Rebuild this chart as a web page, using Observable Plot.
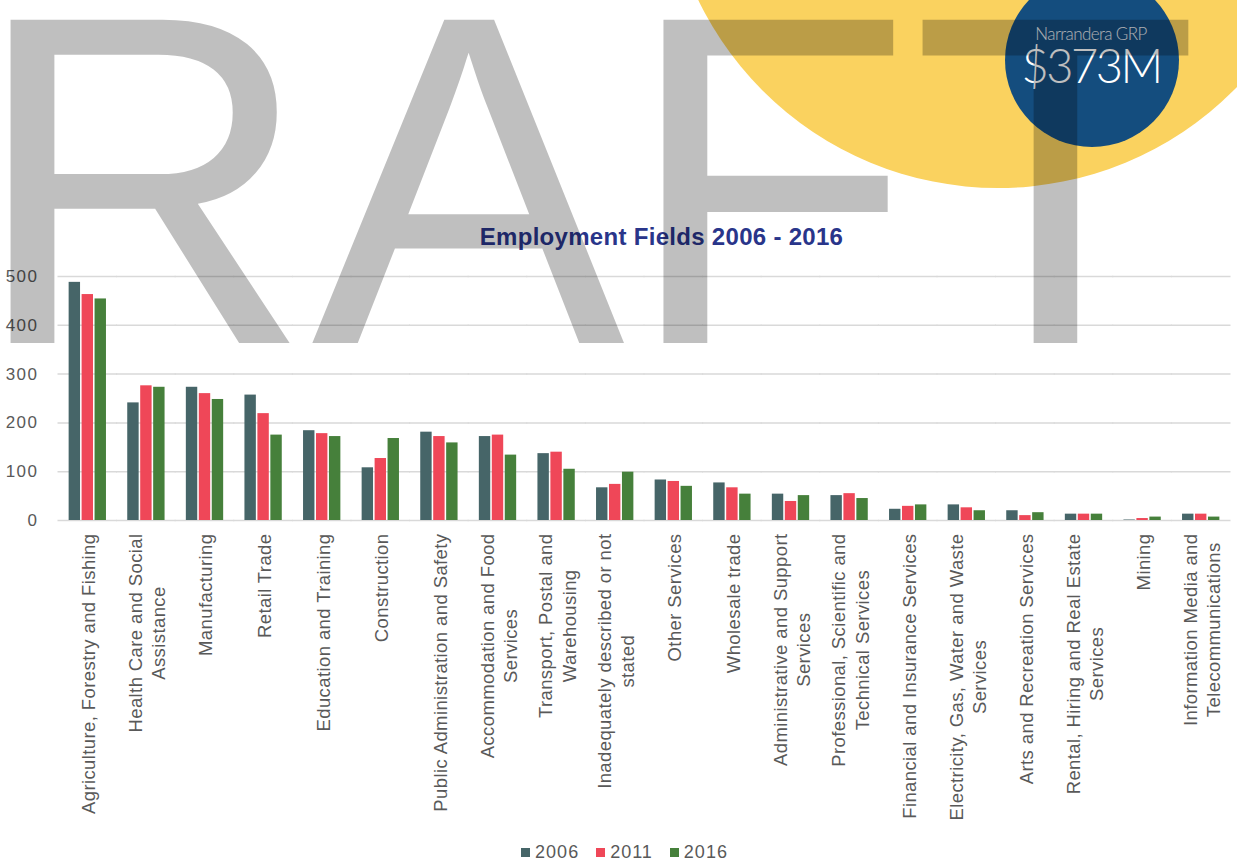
<!DOCTYPE html>
<html>
<head>
<meta charset="utf-8">
<script src="https://cdn.jsdelivr.net/npm/d3@7"></script>
<script src="https://cdn.jsdelivr.net/npm/@observablehq/plot@0.6"></script>
<style>
  html, body { margin: 0; padding: 0; background: #fff; }
  #wrap { width: 1237px; height: 867px; position: relative; overflow: hidden; }
  #legend .lg-swatches { justify-content: center; margin: 0 !important; min-height: 33px; padding-left: 12px;
    font-family: "Liberation Sans", Arial, sans-serif; font-size: 18px; letter-spacing: 1px; color: #595959; }
  #legend .lg-swatch { margin-right: 17px; }
  #legend .lg-swatch:last-child { margin-right: 0; }
  #legend .lg-swatch > svg { margin-right: 5px; }
  g.xlab text { letter-spacing: 0.4px; }
  g.ytl text { letter-spacing: 1.5px; }
</style>
</head>
<body>
<div id="wrap">
  <div id="chart"></div>
  <div id="legend"></div>
</div>
<script>
// ---------- data ----------
const categories = [
  "Agriculture, Forestry and Fishing",
  "Health Care and Social Assistance",
  "Manufacturing",
  "Retail Trade",
  "Education and Training",
  "Construction",
  "Public Administration and Safety",
  "Accommodation and Food Services",
  "Transport, Postal and Warehousing",
  "Inadequately described or not stated",
  "Other Services",
  "Wholesale trade",
  "Administrative and Support Services",
  "Professional, Scientific and Technical Services",
  "Financial and Insurance Services",
  "Electricity, Gas, Water and Waste Services",
  "Arts and Recreation Services",
  "Rental, Hiring and Real Estate Services",
  "Mining",
  "Information Media and Telecommunications"
];
const tickLabels = [
  "Agriculture, Forestry and Fishing",
  "Health Care and Social\nAssistance",
  "Manufacturing",
  "Retail Trade",
  "Education and Training",
  "Construction",
  "Public Administration and Safety",
  "Accommodation and Food\nServices",
  "Transport, Postal and\nWarehousing",
  "Inadequately described or not\nstated",
  "Other Services",
  "Wholesale trade",
  "Administrative and Support\nServices",
  "Professional, Scientific and\nTechnical Services",
  "Financial and Insurance Services",
  "Electricity, Gas, Water and Waste\nServices",
  "Arts and Recreation Services",
  "Rental, Hiring and Real Estate\nServices",
  "Mining",
  "Information Media and\nTelecommunications"
];
const years = ["2006", "2011", "2016"];
const v2006 = [488, 241, 273, 257, 184, 108, 181, 172, 137, 67, 83, 77, 54, 51, 23, 32, 20, 13, 1, 13];
const v2011 = [463, 276, 260, 219, 178, 127, 172, 175, 140, 74, 80, 67, 39, 55, 29, 26, 10, 13, 4, 13];
const v2016 = [454, 273, 248, 175, 172, 168, 159, 134, 105, 99, 70, 54, 51, 45, 32, 20, 16, 13, 7, 7];
const yTicks = [0, 100, 200, 300, 400, 500];
const titleText = "Employment Fields 2006 - 2016";
const grpLabel = "Narrandera GRP";
const grpValue = "$373M";
const watermark = "RAFT";   // visible part of the "DRAFT" watermark

// ---------- build ----------
const colors = ["#466568", "#ef4758", "#46803b"];
const series = [v2006, v2011, v2016];
const data = categories.flatMap((c, i) => years.map((y, j) => ({cat: c, year: y, value: series[j][i]})));
const labelData = categories.map((c, i) => ({cat: c, label: tickLabels[i]}));

const W = 1237, ML = 58, MR = 7;
const padIn = 0.31, padOut = 0.155;
const step = (W - ML - MR) / (categories.length - padIn + 2 * padOut);
const gapHalf = padIn * step / 2;        // half gap between facet bands
const outer = padOut * step;              // outer gap before first band

const chart = Plot.plot({
  width: W,
  height: 836,
  marginLeft: ML,
  marginRight: MR,
  marginTop: 276,
  marginBottom: 316,
  style: {fontFamily: "'Liberation Sans', Arial, sans-serif", background: "transparent", overflow: "visible"},
  fx: {domain: categories, paddingInner: padIn, paddingOuter: padOut, round: false, axis: null, label: null},
  x: {domain: years, padding: 0.12, round: false, axis: null},
  y: {domain: [0, 500], axis: null},
  color: {domain: years, range: colors},
  marks: [
    Plot.ruleY(yTicks, {y: d => d, stroke: "#d9d9d9", strokeWidth: 1.5, insetLeft: -gapHalf - 0.5, insetRight: -gapHalf - 0.5}),
    Plot.text(yTicks, {fx: () => categories[0], y: d => d, text: d => String(d), frameAnchor: "left", textAnchor: "end",
      dx: -(outer + 20), fill: "#595959", fontSize: 17, className: "ytl"}),
    Plot.barY(data, {fx: "cat", x: "year", y: "value", fill: "year"}),
    Plot.text(labelData, {fx: "cat", text: "label", frameAnchor: "bottom", rotate: -90, textAnchor: "end",
      lineAnchor: "middle", lineHeight: 1.25, dy: 13, fontSize: 18.5, fill: "#595959", className: "xlab"}),
    Plot.text([titleText], {text: d => d, frameAnchor: "top", dx: 17, dy: -39, lineAnchor: "middle",
      fontSize: 24, fontWeight: "bold", fill: "#29358a", facet: "super", className: "ttl"})
  ]
});
document.getElementById("chart").appendChild(chart);
d3.select(chart).selectAll("g.ttl text").attr("letter-spacing", "0.3px");

// center multi-line tick labels (Excel-style)
d3.select(chart).selectAll("g.xlab text").each(function() {
  const tspans = Array.from(this.querySelectorAll("tspan"));
  if (tspans.length > 1) {
    const max = d3.max(tspans, t => t.getComputedTextLength());
    this.setAttribute("text-anchor", "middle");
    tspans.forEach(t => t.setAttribute("x", -max / 2));
  }
});

// background decorations
const svg = d3.select(chart);
const deco = svg.insert("g", ":first-child");
deco.append("circle").attr("cx", 998).attr("cy", -145).attr("r", 333).attr("fill", "#fad25f");
deco.append("circle").attr("cx", 1092).attr("cy", 60).attr("r", 87).attr("fill", "#144d7e");
deco.append("text").text(grpLabel).attr("x", 1091).attr("y", 40).attr("text-anchor", "middle")
  .attr("font-family", "Lato, 'Liberation Sans', sans-serif").attr("font-weight", 300)
  .attr("font-size", 17).attr("letter-spacing", "-0.6px").attr("fill", "#e6e9ee");
deco.append("text").text(grpValue).attr("x", 1091).attr("y", 83).attr("text-anchor", "middle")
  .attr("font-family", "Lato, 'Liberation Sans', sans-serif").attr("font-weight", 300)
  .attr("font-size", 47).attr("letter-spacing", "-2.5px").attr("fill", "#ffffff");

// watermark on top
svg.append("text").text(watermark).attr("x", -28).attr("y", 343).attr("text-anchor", "start")
  .attr("font-family", "'Liberation Sans', Arial, sans-serif").attr("font-size", 470)
  .attr("fill", "#000").attr("fill-opacity", 0.25).style("pointer-events", "none");

// legend
const legend = Plot.legend({color: {domain: years, range: colors}, legend: "swatches", swatchSize: 9, className: "lg"});
document.getElementById("legend").appendChild(legend);
</script>
</body>
</html>
